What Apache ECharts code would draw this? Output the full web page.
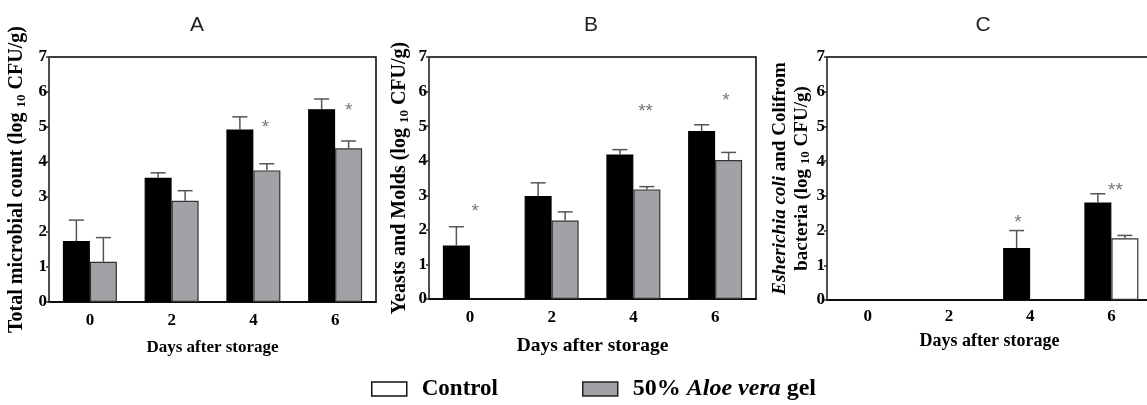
<!DOCTYPE html>
<html>
<head>
<meta charset="utf-8">
<script src="https://cdn.jsdelivr.net/npm/echarts@6/dist/echarts.min.js"></script>
<style>
  html, body { margin: 0; padding: 0; background: #fff; }
  #chart { width: 1147px; height: 405px; }
</style>
</head>
<body>
<div id="chart"></div>
<script>
const days = ["0", "2", "4", "6"];

// A: total microbial count
const aBlack = [1.74, 3.55, 4.93, 5.51];
const aBlackSd = [0.6, 0.14, 0.36, 0.29];
const aGel = [1.15, 2.89, 3.76, 4.39];
const aGelSd = [0.69, 0.29, 0.19, 0.21];

// B: yeasts and molds
const bBlack = [1.55, 2.98, 4.18, 4.86];
const bBlackSd = [0.54, 0.38, 0.14, 0.18];
const bGel = [null, 2.27, 3.17, 4.02];
const bGelSd = [null, 0.25, 0.08, 0.22];

// C: E. coli and coliform
const cBlack = [null, null, 1.5, 2.81];
const cBlackSd = [null, null, 0.5, 0.25];
const cControl = [null, null, null, 1.78];
const cControlSd = [null, null, null, 0.08];

// significance marks: [day index, height, text, shift in bar widths]
const aStars = [[2, 5.1, "*", 0.45], [3, 5.57, "*", 0.5]];
const bStars = [[0, 2.63, "*", 0.2], [2, 5.52, "**", 0.45], [3, 5.84, "*", 0.4]];
const cStars = [[2, 2.33, "*", -0.45], [3, 3.25, "**", 0.15]];

const SERIF = "'Liberation Serif', 'Times New Roman', serif";
const BAR_W = 27;
const CAP_W = 15;
const ERR_COLOR = "#555";
const GEL_COLOR = "#a2a2a6";
const STAR_DY = 4;

const chart = echarts.init(document.getElementById("chart"));

const grids = [
  { left: 49, top: 57, width: 327, height: 245 },
  { left: 429, top: 57, width: 327, height: 242 },
  { left: 827, top: 57, width: 325, height: 243 },
];

const xNames = [
  { size: 17, gap: 37, margin: 10 },
  { size: 19.5, gap: 37, margin: 10 },
  { size: 18, gap: 32, margin: 8 },
];

const yNames = [
  { text: "{b|Total microbial count (log }{s|10}{b| CFU/g)}", gap: 21, size: 20 },
  { text: "{b|Yeasts and Molds (log }{s|10}{b| CFU/g)}", gap: 18, size: 20 },
  { text: "{i|Esherichia coli}{b| and Colifrom}\n{b|bacteria (log }{s|10}{b| CFU/g)}", gap: 7, size: 19 },
];

function barSeries(idx, name, data, color) {
  return {
    type: "bar",
    name,
    xAxisIndex: idx,
    yAxisIndex: idx,
    data: data.map((v) => (v == null ? "-" : v)),
    barWidth: BAR_W,
    barGap: "0%",
    itemStyle: { color, borderColor: color === "#000" ? "#000" : "#333", borderWidth: 1.2 },
    emphasis: { disabled: true },
    z: 2,
  };
}

function errorSeries(idx, means, sds, shift) {
  const data = [];
  means.forEach((m, i) => {
    if (m != null) data.push([i, m, m + sds[i]]);
  });
  return {
    type: "custom",
    xAxisIndex: idx,
    yAxisIndex: idx,
    z: 3,
    silent: true,
    data,
    renderItem(params, api) {
      const base = api.coord([api.value(0), api.value(1)]);
      const top = api.coord([api.value(0), api.value(2)]);
      const x = base[0] + shift * BAR_W;
      const style = { stroke: ERR_COLOR, lineWidth: 1.5 };
      return {
        type: "group",
        children: [
          { type: "line", shape: { x1: x, y1: base[1], x2: x, y2: top[1] }, style },
          { type: "line", shape: { x1: x - CAP_W / 2, y1: top[1], x2: x + CAP_W / 2, y2: top[1] }, style },
        ],
      };
    },
  };
}

function starSeries(idx, stars) {
  return {
    type: "custom",
    xAxisIndex: idx,
    yAxisIndex: idx,
    z: 4,
    silent: true,
    data: stars,
    renderItem(params, api) {
      const p = api.coord([api.value(0), api.value(1)]);
      const s = stars[params.dataIndex];
      return {
        type: "text",
        x: p[0] + s[3] * BAR_W,
        y: p[1] + STAR_DY,
        style: {
          text: s[2],
          fill: "#777",
          font: "19px 'Liberation Sans', Arial, sans-serif",
          align: "center",
          verticalAlign: "middle",
        },
      };
    },
  };
}

const titleFont = "21px 'Liberation Sans', Arial, sans-serif";

const option = {
  animation: false,
  backgroundColor: "#fff",
  graphic: [
    { type: "text", x: 197, y: 25, style: { text: "A", font: titleFont, fill: "#222", align: "center", verticalAlign: "middle" } },
    { type: "text", x: 591, y: 25, style: { text: "B", font: titleFont, fill: "#222", align: "center", verticalAlign: "middle" } },
    { type: "text", x: 983, y: 25, style: { text: "C", font: titleFont, fill: "#222", align: "center", verticalAlign: "middle" } },
  ],
  legend: {
    left: 366,
    top: 372,
    itemWidth: 35,
    itemHeight: 14,
    itemGap: 84,
    icon: "rect",
    selectedMode: false,
    data: [
      { name: "Control", itemStyle: { color: "#fff", borderColor: "#111", borderWidth: 1.5 } },
      { name: "50% Aloe vera gel", itemStyle: { color: GEL_COLOR, borderColor: "#222", borderWidth: 1.5 } },
    ],
    formatter: (name) => (name === "Control" ? "{b|Control}" : "{g|50% }{i|Aloe vera}{g| gel}"),
    textStyle: {
      padding: [0, 0, 0, 10],
      rich: {
        b: { fontFamily: SERIF, fontWeight: "bold", fontSize: 23, color: "#000" },
        g: { fontFamily: SERIF, fontWeight: "bold", fontSize: 24, color: "#000" },
        i: { fontFamily: SERIF, fontWeight: "bold", fontStyle: "italic", fontSize: 24, color: "#000" },
      },
    },
  },
  grid: grids.map((g) => ({ ...g, show: true, borderColor: "#000", borderWidth: 1.5, outerBoundsMode: "none" })),
  xAxis: grids.map((g, i) => ({
    type: "category",
    gridIndex: i,
    data: days,
    name: "Days after storage",
    nameLocation: "middle",
    nameGap: xNames[i].gap,
    nameTextStyle: { fontFamily: SERIF, fontWeight: "bold", fontSize: xNames[i].size, color: "#000" },
    axisLine: { lineStyle: { color: "#000", width: 1.5 } },
    axisTick: { alignWithLabel: true, length: 4, lineStyle: { color: "#000", width: 1.5 } },
    axisLabel: { fontFamily: SERIF, fontWeight: "bold", fontSize: 17, color: "#000", margin: xNames[i].margin },
  })),
  yAxis: grids.map((g, i) => ({
    type: "value",
    gridIndex: i,
    min: 0,
    max: 7,
    interval: 1,
    name: yNames[i].text,
    nameLocation: "middle",
    nameRotate: 90,
    nameGap: yNames[i].gap,
    nameTextStyle: {
      lineHeight: 22,
      rich: {
        b: { fontFamily: SERIF, fontWeight: "bold", fontSize: yNames[i].size, color: "#000", lineHeight: 22 },
        i: { fontFamily: SERIF, fontWeight: "bold", fontStyle: "italic", fontSize: yNames[i].size, color: "#000", lineHeight: 22 },
        s: { fontFamily: SERIF, fontWeight: "bold", fontSize: 13, color: "#000", verticalAlign: "bottom", lineHeight: 13 },
      },
    },
    splitLine: { show: false },
    axisLine: { show: true, lineStyle: { color: "#555", width: 1.5 } },
    axisTick: { show: true, length: 3, lineStyle: { color: "#333", width: 1.5 } },
    axisLabel: { fontFamily: SERIF, fontWeight: "bold", fontSize: 17, color: "#000", margin: 2 },
  })),
  series: [
    barSeries(0, "Black", aBlack, "#000"),
    barSeries(0, "50% Aloe vera gel", aGel, GEL_COLOR),
    barSeries(1, "Black", bBlack, "#000"),
    barSeries(1, "50% Aloe vera gel", bGel, GEL_COLOR),
    barSeries(2, "Black", cBlack, "#000"),
    barSeries(2, "Control", cControl, "#fff"),
    errorSeries(0, aBlack, aBlackSd, -0.5),
    errorSeries(0, aGel, aGelSd, 0.5),
    errorSeries(1, bBlack, bBlackSd, -0.5),
    errorSeries(1, bGel, bGelSd, 0.5),
    errorSeries(2, cBlack, cBlackSd, -0.5),
    errorSeries(2, cControl, cControlSd, 0.5),
    starSeries(0, aStars),
    starSeries(1, bStars),
    starSeries(2, cStars),
  ],
};

chart.setOption(option);
</script>
</body>
</html>
